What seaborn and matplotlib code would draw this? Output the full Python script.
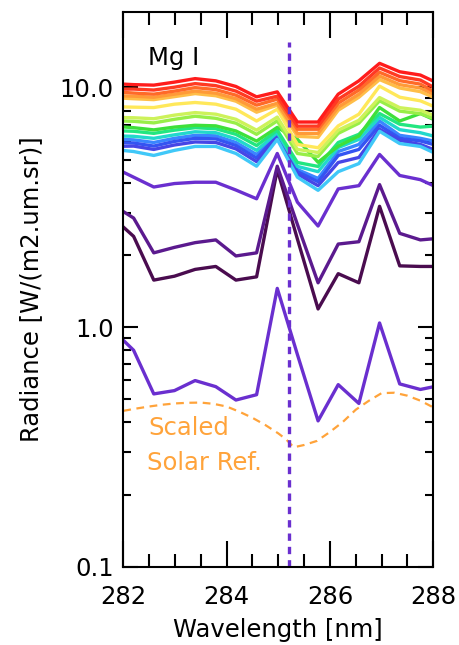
import matplotlib
matplotlib.use("Agg")
import pandas as pd
import matplotlib.pyplot as plt
import seaborn as sns
from matplotlib.ticker import FixedLocator, MultipleLocator, NullFormatter

# spectral sample points (nm), first and last fall just outside the axis range
wavelength = [281.80, 282.20, 282.59, 282.99, 283.39, 283.79, 284.18, 284.58, 284.98,
              285.37, 285.77, 286.16, 286.56, 286.96, 287.35, 287.75, 288.15]

# dark / purple spectra
dark_purple = [2.86, 2.39, 1.57, 1.63, 1.74, 1.79, 1.57, 1.62, 4.54, 2.33, 1.19, 1.67, 1.53, 3.19, 1.80, 1.79, 1.79]
mid_purple = [3.23, 2.85, 2.04, 2.15, 2.25, 2.31, 1.98, 2.04, 4.69, 2.68, 1.53, 2.22, 2.27, 3.93, 2.46, 2.31, 2.35]
purple_low = [0.97, 0.80, 0.526, 0.543, 0.598, 0.564, 0.496, 0.522, 1.45, 0.768, 0.406, 0.575, 0.48, 1.04, 0.579, 0.549, 0.572]
purple_high = [4.65, 4.22, 3.84, 3.97, 4.02, 4.02, 3.73, 3.43, 5.30, 3.32, 2.64, 3.77, 3.89, 5.25, 4.29, 4.12, 3.76]

# rainbow spectra (bottom of the bundle to top)
blue1 = [6.10, 6.04, 5.89, 6.13, 6.31, 6.28, 5.89, 5.25, 6.37, 4.54, 4.17, 5.40, 5.78, 7.24, 6.31, 6.13, 5.88]
blue2 = [5.89, 5.86, 5.69, 5.95, 6.13, 6.10, 5.72, 5.07, 6.28, 4.45, 4.04, 5.20, 5.51, 6.95, 6.13, 5.98, 5.66]
blue3 = [5.67, 5.69, 5.51, 5.75, 5.92, 5.89, 5.54, 4.90, 6.22, 4.35, 3.89, 4.86, 5.10, 6.69, 6.01, 5.78, 5.35]
cyan = [5.51, 5.40, 5.20, 5.46, 5.67, 5.67, 5.30, 4.69, 6.07, 4.22, 3.72, 4.45, 4.81, 6.56, 5.83, 5.67, 5.17]
teal = [6.28, 6.25, 6.13, 6.34, 6.53, 6.47, 6.10, 5.46, 6.47, 4.68, 4.45, 5.61, 6.07, 7.50, 6.66, 6.47, 6.15]
spring = [6.60, 6.56, 6.43, 6.63, 6.79, 6.72, 6.37, 5.72, 6.63, 4.86, 4.68, 5.89, 6.37, 7.78, 7.02, 6.83, 6.93]
green = [6.89, 6.79, 6.65, 6.83, 6.95, 6.91, 6.58, 5.97, 6.81, 6.07, 4.87, 5.69, 6.27, 8.24, 7.24, 7.78, 7.12]
light_green = [7.26, 7.22, 7.11, 7.36, 7.58, 7.43, 7.09, 6.37, 7.25, 5.30, 5.15, 6.43, 7.09, 8.79, 7.96, 7.77, 7.24]
yellow_green = [7.50, 7.47, 7.40, 7.66, 7.85, 7.73, 7.36, 6.63, 7.52, 5.51, 5.35, 6.63, 7.29, 9.07, 8.23, 8.03, 7.43]
yellow = [8.31, 8.27, 8.24, 8.51, 8.65, 8.51, 8.11, 7.24, 8.11, 5.78, 5.60, 6.91, 7.73, 10.12, 9.10, 8.79, 8.09]
light_orange = [9.06, 8.97, 8.89, 9.15, 9.42, 9.23, 8.76, 7.88, 8.43, 6.25, 6.19, 8.03, 9.10, 10.78, 9.94, 9.60, 8.82]
orange = [9.24, 9.19, 9.10, 9.37, 9.65, 9.46, 8.97, 8.11, 8.59, 6.43, 6.43, 8.27, 9.37, 11.15, 10.27, 9.94, 9.06]
orange_red = [9.60, 9.47, 9.37, 9.65, 9.98, 9.79, 9.28, 8.43, 8.93, 6.69, 6.69, 8.59, 9.75, 11.56, 10.67, 10.32, 9.26]
red2 = [9.84, 9.84, 9.75, 10.02, 10.37, 10.17, 9.65, 8.76, 9.19, 6.89, 6.89, 8.93, 10.12, 12.05, 11.10, 10.73, 9.63]
red = [10.37, 10.27, 10.22, 10.52, 10.88, 10.65, 10.09, 9.13, 9.58, 7.17, 7.17, 9.37, 10.65, 12.60, 11.62, 11.26, 10.26]

# scaled solar reference
solar_nm = [282.0, 282.25, 282.5, 282.75, 283.0, 283.25, 283.5, 283.75, 284.0, 284.25, 284.5, 284.75, 285.0,
            285.15, 285.3, 285.5, 285.75, 286.0, 286.25, 286.5, 286.75, 287.0, 287.25, 287.5, 287.75, 288.0]
solar_ref = [0.447, 0.457, 0.466, 0.474, 0.480, 0.483, 0.484, 0.478, 0.466, 0.443, 0.418, 0.390, 0.360,
             0.340, 0.315, 0.322, 0.335, 0.365, 0.402, 0.452, 0.492, 0.530, 0.532, 0.517, 0.493, 0.462]

# Mg I line position and top of the marker
mg_nm = 285.21
mg_top = 15.5

spectra = [
    ("dark_purple", dark_purple, "#4a0c4f"),
    ("mid_purple", mid_purple, "#5b1a8e"),
    ("purple_low", purple_low, "#6a2fcf"),
    ("purple_high", purple_high, "#6a2fcf"),
    ("blue1", blue1, "#3a86ff"),
    ("blue2", blue2, "#3454f2"),
    ("blue3", blue3, "#4646e6"),
    ("cyan", cyan, "#40c8f8"),
    ("teal", teal, "#22d8cc"),
    ("spring", spring, "#22e680"),
    ("green", green, "#3ee03a"),
    ("light_green", light_green, "#98ee48"),
    ("yellow_green", yellow_green, "#cdf25a"),
    ("yellow", yellow, "#ffe85a"),
    ("light_orange", light_orange, "#ffbe48"),
    ("orange", orange, "#ff9a38"),
    ("orange_red", orange_red, "#ff6a28"),
    ("red2", red2, "#ff3a22"),
    ("red", red, "#ff1c1c"),
]

frames = []
for name, vals, col in spectra:
    frames.append(pd.DataFrame({"Wavelength": wavelength, "Radiance": vals, "spectrum": name}))
df = pd.concat(frames, ignore_index=True)
palette = {name: col for name, vals, col in spectra}

sns.set_style("white")
plt.rcParams['font.family'] = ['DejaVu Sans']
plt.rcParams['text.color'] = 'black'
plt.rcParams['axes.labelcolor'] = 'black'
plt.rcParams['xtick.color'] = 'black'
plt.rcParams['ytick.color'] = 'black'

fig = plt.figure(figsize=(4.59, 6.45), dpi=100)
ax = fig.add_axes([0.2686, 0.1214, 0.6754, 0.8605])

sns.lineplot(data=df, x="Wavelength", y="Radiance", hue="spectrum", palette=palette,
             hue_order=[s[0] for s in spectra], estimator=None, sort=False,
             lw=2.4, legend=False, ax=ax)

# solar reference, dashed orange
sns.lineplot(x=solar_nm, y=solar_ref, color="#ffa33a", lw=1.6, linestyle=(0, (3.5, 2.5)),
             estimator=None, sort=False, ax=ax)

# Mg I line marker
ax.plot([mg_nm, mg_nm], [0.1, mg_top], color="#6a2fcf", lw=2.4, linestyle=(0, (2.2, 1.8)))

ax.set_yscale("log")
ax.set_xlim(282, 288)
ax.set_ylim(0.1, 20.7)

ax.set_xticks([282, 284, 286, 288])
ax.set_xticklabels(["282", "284", "286", "288"])
ax.xaxis.set_minor_locator(MultipleLocator(0.5))
ax.set_yticks([0.1, 1, 10])
ax.set_yticklabels(["0.1", "1.0", "10.0"])
ax.yaxis.set_minor_locator(FixedLocator([0.2, 0.3, 0.4, 0.5, 0.6, 0.7, 0.8, 0.9,
                                         2, 3, 4, 5, 6, 7, 8, 9]))
ax.yaxis.set_minor_formatter(NullFormatter())

ax.tick_params(which="both", direction="in", top=True, right=True, bottom=True, left=True,
               width=1.5, color="black", labelcolor="black", labelsize=17.5)
ax.tick_params(axis="x", which="major", length=19, pad=13)
ax.tick_params(axis="x", which="minor", length=9.5)
ax.tick_params(axis="y", which="major", length=11, pad=7)
ax.tick_params(axis="y", which="minor", length=5.5)

for sp in ax.spines.values():
    sp.set_linewidth(1.5)
    sp.set_color("black")

ax.set_xlabel("Wavelength [nm]", fontsize=17.5, color="black")
ax.xaxis.set_label_coords(0.5, -0.092)
ax.set_ylabel("Radiance [W/(m2.um.sr)]", fontsize=17.5, color="black")
ax.yaxis.set_label_coords(-0.26, 0.5)

ax.text(0.08, 0.9166, "Mg I", transform=ax.transAxes, fontsize=17.5, va="center", color="black")
ax.text(0.08, 0.25, "Scaled", transform=ax.transAxes, fontsize=17.5, va="center", color="#ffa33a")
ax.text(0.077, 0.187, "Solar Ref.", transform=ax.transAxes, fontsize=17.5, va="center", color="#ffa33a")

plt.savefig("out.png", dpi=100)
